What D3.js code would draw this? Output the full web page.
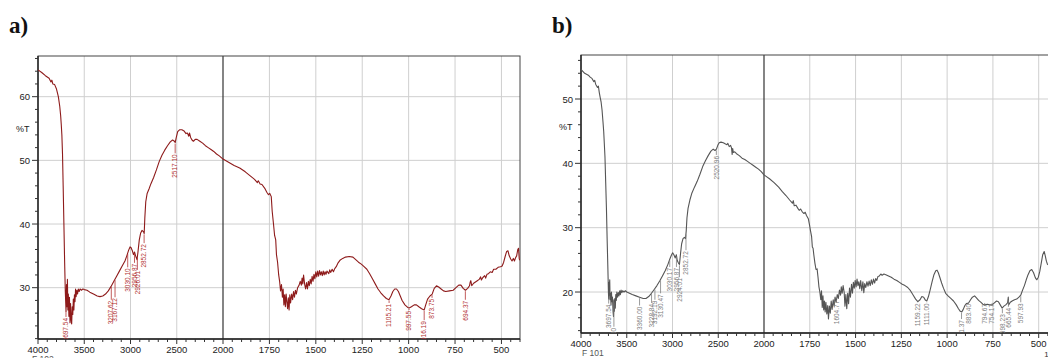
<!DOCTYPE html>
<html>
<head>
<meta charset="utf-8">
<script src="https://cdnjs.cloudflare.com/ajax/libs/d3/7.8.5/d3.min.js"></script>
<style>
  html, body { margin: 0; padding: 0; background: #fff; }
  svg { display: block; }
</style>
</head>
<body>
<svg id="chart" width="1048" height="358"></svg>
<script>
// x axis breaks (wavenumber, 1/cm) - scale doubles below 2000
const xMajorTicks = [4000, 3500, 3000, 2500, 2000, 1750, 1500, 1250, 1000, 750, 500];

// panel a) spectrum F 102 : [wavenumber, %T]
const spectrumA = [
  [4000,64.2],[3960,63.8],[3920,63.3],[3880,62.9],[3860,62.3],[3850,62.6],[3840,62.0],[3820,61.9],[3800,61.2],
  [3780,60.0],[3765,58.5],[3755,57.0],[3748,55.5],[3742,54.0],[3735,51.0],[3728,46.0],[3720,40.0],[3712,34.0],
  [3705,29.5],[3700,27.5],[3697,26.3],[3692,30.5],[3688,27.0],[3682,31.3],[3677,26.5],[3672,29.0],[3666,25.5],
  [3660,28.5],[3654,24.5],[3648,27.5],[3642,25.0],[3636,24.3],[3630,27.0],[3624,25.8],[3618,28.2],[3612,26.5],
  [3606,28.9],[3600,27.8],[3594,29.8],[3588,28.6],[3580,29.6],[3572,29.0],[3565,29.8],[3555,29.4],[3545,29.8],
  [3530,29.6],[3515,29.8],[3500,29.7],[3470,29.6],[3440,29.3],[3400,29.0],[3360,28.7],[3330,28.6],[3300,28.7],
  [3270,29.0],[3240,29.5],[3210,30.2],[3180,31.0],[3150,31.8],[3120,32.6],[3090,33.4],[3060,34.2],[3040,35.0],
  [3020,35.9],[3005,36.4],[2995,36.3],[2980,35.8],[2968,35.2],[2956,35.6],[2945,35.0],[2930,34.4],[2920,35.5],
  [2905,37.5],[2890,38.6],[2875,39.0],[2860,38.8],[2852,38.5],[2845,41.0],[2835,43.5],[2820,44.8],[2800,45.5],
  [2780,46.3],[2750,47.3],[2720,48.5],[2690,49.8],[2660,50.8],[2630,51.6],[2600,52.3],[2570,52.9],[2545,53.2],
  [2525,53.0],[2517,52.8],[2505,53.6],[2490,54.5],[2470,54.8],[2445,54.8],[2420,54.6],[2400,54.2],[2385,54.3],
  [2370,53.8],[2362,54.3],[2350,53.6],[2335,53.2],[2320,53.0],[2300,53.3],[2280,53.3],[2250,53.0],[2220,52.7],
  [2190,52.3],[2160,52.0],[2130,51.7],[2100,51.4],[2070,51.0],[2040,50.7],[2000,50.2],
  [1970,49.7],[1940,49.2],[1910,48.8],[1880,48.2],[1855,47.6],[1830,47.0],[1815,46.5],[1810,46.8],[1800,46.3],
  [1790,46.2],[1775,45.6],[1764,45.0],[1755,44.6],[1748,44.8],[1740,44.3],[1735,42.0],[1728,40.0],[1722,38.2],
  [1716,37.5],[1712,35.2],[1706,34.0],[1700,32.0],[1695,31.0],[1690,29.5],[1685,30.5],[1680,28.5],[1676,29.8],
  [1672,27.3],[1668,28.9],[1664,27.0],[1660,29.0],[1656,27.8],[1652,26.7],[1648,28.4],[1644,26.5],[1640,28.9],
  [1636,27.6],[1630,29.0],[1625,28.1],[1620,29.4],[1615,28.5],[1610,29.6],[1605,29.0],[1598,30.0],[1590,30.4],
  [1584,31.0],[1578,30.4],[1574,31.5],[1570,30.6],[1566,32.0],[1560,30.5],[1555,29.8],[1550,30.8],[1545,29.8],
  [1540,31.0],[1535,30.3],[1530,31.3],[1525,30.6],[1520,31.8],[1515,31.0],[1510,32.1],[1505,31.4],[1500,32.5],
  [1495,31.7],[1490,32.6],[1485,31.8],[1480,32.7],[1475,32.0],[1470,32.5],[1465,31.9],[1460,32.6],[1455,32.0],
  [1450,32.5],[1445,32.1],[1440,32.6],[1430,32.2],[1425,32.8],[1420,32.4],[1412,32.9],[1405,32.5],[1398,33.0],
  [1390,33.3],[1380,33.9],[1370,34.3],[1355,34.6],[1340,34.8],[1320,34.9],[1300,34.8],[1285,34.4],[1270,34.0],
  [1255,33.7],[1240,33.3],[1225,32.9],[1210,32.2],[1195,31.4],[1180,30.6],[1165,29.8],[1150,29.2],[1135,28.7],
  [1120,28.3],[1106,28.1],[1095,28.7],[1085,29.4],[1075,29.8],[1065,29.8],[1055,29.4],[1045,28.7],[1035,28.0],
  [1020,27.3],[1005,26.9],[997,26.8],[985,27.0],[970,27.3],[958,27.3],[945,27.0],[930,26.7],[916,26.5],
  [908,27.3],[898,28.2],[885,28.7],[873,29.0],[862,29.9],[850,30.3],[838,30.1],[825,29.8],[812,29.5],
  [800,29.4],[780,29.5],[760,29.6],[745,30.0],[730,30.4],[718,30.4],[706,29.9],[694,29.6],[682,29.9],
  [672,30.3],[668,30.9],[665,31.1],[660,30.3],[650,30.7],[640,30.9],[630,31.1],[620,31.3],[612,31.7],
  [608,31.2],[600,31.6],[590,31.9],[585,31.5],[578,32.1],[570,32.2],[560,32.5],[550,32.4],[542,32.9],
  [530,32.9],[518,33.2],[505,33.3],[496,33.4],[488,34.0],[480,34.9],[472,35.7],[465,35.8],[458,35.0],
  [450,34.5],[443,34.2],[436,34.6],[430,34.2],[424,34.7],[418,35.0],[412,36.0],[408,36.2],[404,34.5],[400,34.3]
];

// peak labels a): [wavenumber, text, %T at top of label]
const peaksA = [
  [3697.54, '3697.54', 25.4], [3207.62, '3207.62', 28.1], [3167.12, '3167.12', 28.5],
  [3030.10, '3030.10', 33.2], [2956.87, '2956.87', 33.9], [2926.01, '2926.01', 32.8],
  [2852.72, '2852.72', 37.0], [2517.10, '2517.10', 51.1], [1105.21, '1105.21', 27.6],
  [997.55, '997.55', 26.5], [916.19, '916.19', 24.9], [873.75, '873.75', 28.4], [694.37, '694.37', 28.1]
];

// panel b) spectrum F 101 : [wavenumber, %T]
const spectrumB = [
  [4000,54.6],[3960,54.0],[3920,53.7],[3900,53.4],[3880,53.2],[3860,52.7],[3850,52.9],[3840,52.3],[3820,51.8],
  [3810,52.0],[3800,51.0],[3790,50.2],[3780,49.5],[3770,48.3],[3760,46.5],[3752,45.0],[3745,43.0],[3738,41.0],
  [3730,37.0],[3722,33.0],[3714,28.0],[3706,23.5],[3700,19.8],[3697,18.9],[3693,21.5],[3690,19.5],[3686,21.9],
  [3682,18.8],[3677,19.8],[3672,18.0],[3667,20.0],[3662,18.5],[3656,19.2],[3650,17.0],[3645,16.2],[3640,18.8],
  [3635,17.0],[3630,19.0],[3625,17.5],[3620,19.6],[3614,18.7],[3608,20.0],[3600,19.2],[3592,19.9],[3585,19.4],
  [3577,20.2],[3570,19.6],[3562,20.3],[3553,19.9],[3545,20.2],[3530,20.0],[3515,20.2],[3500,20.0],[3470,19.8],
  [3440,19.6],[3400,19.4],[3360,19.2],[3320,19.0],[3290,19.0],[3260,19.3],[3230,19.8],[3200,20.4],[3170,21.0],
  [3140,21.7],[3110,22.5],[3080,23.3],[3050,24.3],[3030,25.1],[3010,25.8],[2998,26.1],[2985,25.8],[2970,25.3],
  [2958,25.8],[2948,24.9],[2935,24.5],[2924,24.3],[2912,26.0],[2900,27.5],[2885,28.3],[2870,28.5],[2858,28.3],
  [2850,29.5],[2842,31.5],[2830,33.0],[2810,34.3],[2790,35.3],[2760,36.3],[2730,37.2],[2700,38.3],[2670,39.5],
  [2640,40.4],[2610,41.2],[2580,41.9],[2555,42.2],[2535,42.0],[2520,42.2],[2505,42.8],[2490,43.2],[2470,43.3],
  [2445,43.2],[2420,43.0],[2405,42.9],[2395,43.1],[2380,42.6],[2365,42.8],[2355,42.4],[2348,41.4],[2342,42.3],
  [2335,41.7],[2320,41.8],[2300,41.5],[2270,41.2],[2240,40.8],[2210,40.6],[2180,40.3],[2150,40.0],[2120,39.7],
  [2090,39.4],[2060,39.1],[2030,38.7],[2000,38.2],
  [1970,37.6],[1945,37.0],[1920,36.3],[1900,35.6],[1880,35.0],[1860,34.3],[1845,33.8],[1840,34.2],[1835,33.4],
  [1825,33.5],[1815,33.0],[1808,32.7],[1800,32.9],[1792,32.5],[1782,32.2],[1775,32.4],[1768,31.9],[1758,31.4],
  [1752,30.5],[1746,29.5],[1740,28.6],[1736,27.0],[1732,26.8],[1728,25.8],[1722,24.5],[1716,23.5],[1710,23.6],
  [1705,22.3],[1700,20.8],[1695,20.0],[1690,18.8],[1686,20.2],[1682,17.6],[1678,19.4],[1674,17.2],[1670,18.6],
  [1666,16.9],[1662,18.4],[1657,16.6],[1652,17.9],[1648,15.8],[1643,17.8],[1638,16.7],[1633,18.6],[1628,17.3],
  [1622,18.8],[1617,17.8],[1612,19.2],[1606,18.4],[1600,19.6],[1594,19.0],[1588,20.3],[1582,19.5],[1578,20.8],
  [1573,19.8],[1568,21.0],[1562,19.9],[1558,17.8],[1553,19.6],[1548,17.4],[1543,19.8],[1538,18.2],[1533,20.6],
  [1528,19.2],[1522,21.2],[1517,19.8],[1512,21.5],[1507,20.6],[1502,21.8],[1497,20.8],[1492,22.0],[1487,21.0],
  [1482,21.6],[1477,20.5],[1472,21.8],[1466,20.2],[1460,21.6],[1455,19.9],[1450,21.3],[1444,20.7],[1438,21.6],
  [1432,20.9],[1426,21.7],[1420,21.0],[1414,21.9],[1408,21.2],[1402,22.0],[1396,21.4],[1390,22.1],[1384,21.8],
  [1378,22.4],[1370,22.5],[1362,22.8],[1355,22.6],[1345,22.8],[1335,22.7],[1320,22.5],[1305,22.3],[1290,22.0],
  [1275,21.8],[1260,21.5],[1245,21.2],[1230,21.0],[1215,20.7],[1200,20.2],[1185,19.5],[1172,18.9],[1160,18.5],
  [1148,18.8],[1138,19.3],[1128,19.2],[1118,18.7],[1111,18.6],[1102,19.3],[1092,20.4],[1082,21.6],[1072,22.7],
  [1062,23.3],[1055,23.4],[1048,23.0],[1040,22.3],[1030,21.4],[1020,20.6],[1008,19.8],[995,19.4],[980,19.0],
  [965,18.6],[950,18.0],[938,17.4],[928,17.0],[920,16.9],[912,17.3],[903,17.9],[895,18.2],[883,18.3],
  [872,18.8],[862,19.2],[850,19.4],[840,19.1],[828,18.7],[815,18.4],[805,18.1],[794,18.0],[780,18.1],
  [768,18.0],[754,18.0],[742,18.3],[730,18.6],[720,18.5],[710,18.0],[700,17.5],[690,17.8],[680,18.0],
  [670,18.3],[666,19.2],[664,18.0],[655,18.4],[645,18.6],[632,18.8],[620,18.9],[608,19.2],[598,19.5],
  [588,20.3],[578,21.0],[568,21.9],[558,22.7],[548,23.3],[538,23.5],[528,23.0],[518,22.2],[510,21.9],
  [502,22.3],[494,23.2],[486,24.5],[478,25.8],[470,26.3],[464,25.6],[458,24.8],[452,24.3],[445,24.2],
  [438,24.4],[430,25.0],[422,25.6],[415,25.8],[408,25.2],[400,24.8]
];

// peak labels b)
const peaksB = [
  [3697.54, '3697.54', 18.2], [3640.50, '3640.50', 14.6], [3360.00, '3360.00', 17.9],
  [3228.84, '3228.84', 18.3], [3192.19, '3192.19', 18.8], [3130.47, '3130.47', 19.8],
  [3030.17, '3030.17', 23.9], [2956.87, '2956.87', 23.9], [2924.01, '2924.01', 22.3],
  [2852.72, '2852.72', 26.5], [2520.96, '2520.96', 41.3], [1604.77, '1604.77', 18.8],
  [1159.22, '1159.22', 18.4], [1111.00, '1111.00', 18.4], [921.37, '921.37', 15.8],
  [883.40, '883.40', 18.3], [794.67, '794.67', 18.3], [754.17, '754.17', 18.3],
  [698.23, '698.23', 16.7], [665.44, '665.44', 17.7], [597.93, '597.93', 18.4]
];

const svg = d3.select('#chart');
const font = '"Liberation Sans", Arial, sans-serif';

// value of the spectrum at a wavenumber (linear between read points)
function valueAt(spec, wn) {
  for (let i = 1; i < spec.length; i++) {
    if (spec[i][0] <= wn) {
      const a = spec[i - 1], b = spec[i];
      const t = (a[0] - wn) / (a[0] - b[0]);
      return a[1] + t * (b[1] - a[1]);
    }
  }
  return spec[spec.length - 1][1];
}

function drawPanel(p) {
  const x = d3.scaleLinear().domain([4000, 2000, 400]).range([p.left, p.mid, p.right]);
  const y = d3.scaleLinear().domain(p.yDomain).range([p.bottom, p.top]);
  const g = svg.append('g');
  const clipId = 'clip-' + p.name;

  g.append('clipPath').attr('id', clipId)
    .append('rect')
    .attr('x', p.left).attr('y', p.top)
    .attr('width', p.right - p.left).attr('height', p.bottom - p.top);

  // grid
  const yMajors = d3.range(Math.ceil(p.yDomain[0] / 10) * 10, p.yDomain[1], 10);
  g.selectAll('.hgrid').data(yMajors).enter().append('line')
    .attr('x1', p.left).attr('x2', p.right)
    .attr('y1', d => y(d)).attr('y2', d => y(d))
    .attr('stroke', '#cfcfcf').attr('stroke-width', 1);
  g.selectAll('.vgrid').data(xMajorTicks.filter(d => d !== 4000)).enter().append('line')
    .attr('x1', d => x(d)).attr('x2', d => x(d))
    .attr('y1', p.top).attr('y2', p.bottom)
    .attr('stroke', d => d === 2000 ? '#333' : '#cfcfcf')
    .attr('stroke-width', d => d === 2000 ? 1.2 : 1);

  // frame
  g.append('rect')
    .attr('x', p.left).attr('y', p.top)
    .attr('width', p.right - p.left).attr('height', p.bottom - p.top)
    .attr('fill', 'none').attr('stroke', '#444').attr('stroke-width', 1);
  g.append('line').attr('x1', p.left).attr('x2', p.left).attr('y1', p.top).attr('y2', p.bottom)
    .attr('stroke', '#222').attr('stroke-width', 1.4);
  g.append('line').attr('x1', p.left).attr('x2', p.right).attr('y1', p.bottom).attr('y2', p.bottom)
    .attr('stroke', '#222').attr('stroke-width', 1.4);

  // y ticks: minor every 2, major every 10
  const yMinor = d3.range(Math.ceil(p.yDomain[0] / 2) * 2, p.yDomain[1], 2);
  g.selectAll('.ytick').data(yMinor).enter().append('line')
    .attr('x1', d => p.left - (d % 10 === 0 ? 6 : 3)).attr('x2', p.left)
    .attr('y1', d => y(d)).attr('y2', d => y(d))
    .attr('stroke', '#333').attr('stroke-width', 1);
  g.selectAll('.ylab').data(yMajors).enter().append('text')
    .attr('x', p.left - 8).attr('y', d => y(d) + 3.5)
    .attr('text-anchor', 'end')
    .style('font-family', font).style('font-size', '9.5px').attr('fill', '#222')
    .text(d => d);
  g.append('text')
    .attr('x', p.left - 22).attr('y', y(p.yDomain[0]) - (p.bottom - p.top) * 0.735 + 1)
    .style('font-family', font).style('font-size', '9px').attr('fill', '#222')
    .text('%T');

  // x ticks: minor every 100 above 2000, every 50 below
  const xMinor = d3.range(4000, 2000, -100).concat(d3.range(2000, 399, -50));
  g.selectAll('.xtick').data(xMinor).enter().append('line')
    .attr('x1', d => x(d)).attr('x2', d => x(d))
    .attr('y1', p.bottom).attr('y2', d => p.bottom + (xMajorTicks.includes(d) ? 5 : 3))
    .attr('stroke', '#333').attr('stroke-width', 1);
  g.selectAll('.xlab').data(xMajorTicks).enter().append('text')
    .attr('x', d => x(d)).attr('y', p.bottom + 14)
    .attr('text-anchor', 'middle')
    .style('font-family', font).style('font-size', '9.5px').attr('fill', '#222')
    .text(d => d);
  g.append('text')
    .attr('x', p.left + p.fileDx).attr('y', p.bottom + p.fileDy)
    .style('font-family', font).style('font-size', '8.5px').attr('fill', '#555')
    .text(p.file);
  g.append('text')
    .attr('x', x(470)).attr('y', p.bottom + p.fileDy + 1)
    .style('font-family', font).style('font-size', '8px').attr('fill', '#333')
    .text('1/cm');

  // spectrum
  const line = d3.line().x(d => x(d[0])).y(d => y(d[1]));
  g.append('path')
    .datum(p.spec)
    .attr('clip-path', 'url(#' + clipId + ')')
    .attr('d', line)
    .attr('fill', 'none')
    .attr('stroke', p.color)
    .attr('stroke-width', 1.1)
    .attr('stroke-linejoin', 'round');

  // peak labels
  const lab = g.append('g').attr('clip-path', 'url(#' + clipId + ')');
  lab.selectAll('.pk').data(p.peaks).enter().append('line')
    .attr('x1', d => x(d[0])).attr('x2', d => x(d[0]))
    .attr('y1', d => y(valueAt(p.spec, d[0])) + 1)
    .attr('y2', d => y(d[2]))
    .attr('stroke', p.labelColor).attr('stroke-width', 0.8);
  lab.selectAll('.pkt').data(p.peaks).enter().append('text')
    .attr('transform', d => 'translate(' + (x(d[0]) + 2.2) + ',' + (y(d[2]) + 1) + ') rotate(-90)')
    .attr('text-anchor', 'end')
    .style('font-family', font).style('font-size', '6.5px').attr('fill', p.labelColor)
    .text(d => d[1]);

  // panel letter
  svg.append('text')
    .attr('x', p.letterX).attr('y', 33)
    .style('font-family', '"Liberation Serif", "Times New Roman", serif')
    .style('font-size', '23px').style('font-weight', 'bold').attr('fill', '#111')
    .text(p.letter);
}

drawPanel({
  name: 'a', letter: 'a)', letterX: 9, file: 'F 102', fileDx: -6, fileDy: 23,
  left: 38, mid: 223, right: 520, top: 56, bottom: 339,
  yDomain: [21.94, 66.39], spec: spectrumA, peaks: peaksA,
  color: '#8e1b1b', labelColor: '#b23232'
});

drawPanel({
  name: 'b', letter: 'b)', letterX: 552, file: 'F 101', fileDx: 1, fileDy: 23,
  left: 581, mid: 764, right: 1057, top: 55, bottom: 333,
  yDomain: [13.63, 56.84], spec: spectrumB, peaks: peaksB,
  color: '#555555', labelColor: '#808080'
});
</script>
</body>
</html>
